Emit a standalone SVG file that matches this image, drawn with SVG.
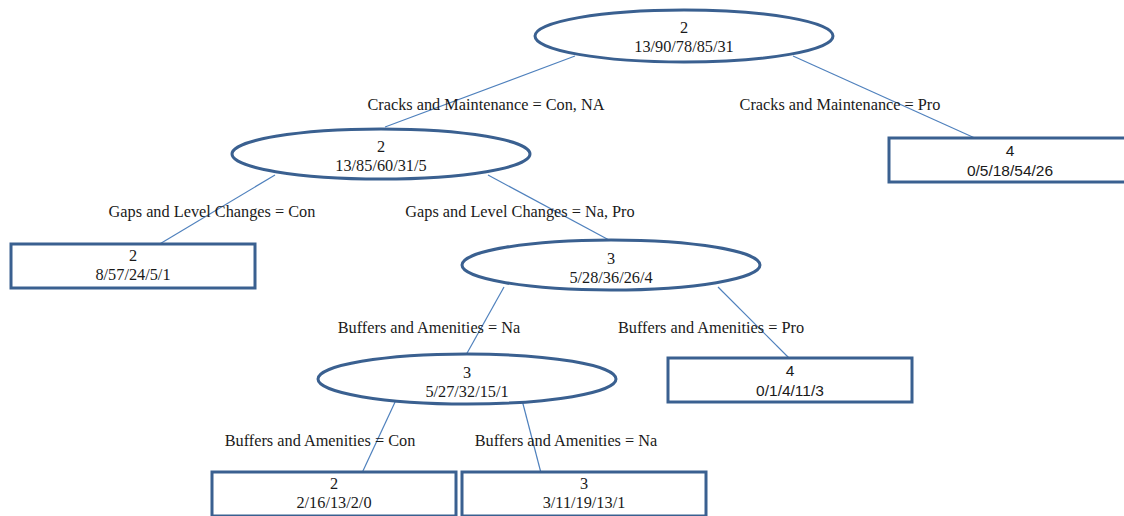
<svg xmlns="http://www.w3.org/2000/svg" width="1124" height="516" viewBox="0 0 1124 516">
<style>
.n{fill:#fff;stroke:#3a6090;stroke-width:3}
.c{stroke:#4f81bd;stroke-width:1.2;fill:none}
text{font-family:"Liberation Serif","Times New Roman",serif;font-size:16.3px;fill:#1a1a1a;text-anchor:middle}
.s{font-family:"Liberation Sans",Arial,sans-serif;font-size:15.5px}
</style>
<rect width="1124" height="516" fill="#fff"/>
<g id="connectors">
<line class="c" x1="575" y1="56" x2="385" y2="127"/>
<line class="c" x1="793" y1="56" x2="977" y2="139"/>
<line class="c" x1="275" y1="175" x2="158" y2="245"/>
<line class="c" x1="488" y1="175" x2="609" y2="240"/>
<line class="c" x1="504" y1="287" x2="466" y2="355"/>
<line class="c" x1="718" y1="287" x2="790" y2="359"/>
<line class="c" x1="396" y1="400" x2="362" y2="473"/>
<line class="c" x1="522" y1="400" x2="541" y2="473"/>
</g>
<g id="edge-labels">
<text x="486" y="110">Cracks and Maintenance = Con, NA</text>
<text x="840" y="110">Cracks and Maintenance = Pro</text>
<text x="212" y="217">Gaps and Level Changes = Con</text>
<text x="520" y="217">Gaps and Level Changes = Na, Pro</text>
<text x="429" y="333">Buffers and Amenities = Na</text>
<text x="711" y="333">Buffers and Amenities = Pro</text>
<text x="320" y="446">Buffers and Amenities = Con</text>
<text x="566" y="446">Buffers and Amenities = Na</text>
</g>
<g id="n1"><ellipse class="n" cx="684" cy="36" rx="149" ry="26"/><text x="684" y="33">2</text><text x="684" y="52">13/90/78/85/31</text></g>
<g id="n2"><ellipse class="n" cx="381" cy="154" rx="149" ry="25"/><text x="381" y="152">2</text><text x="381" y="171">13/85/60/31/5</text></g>
<g id="n3"><rect class="n" x="889" y="138" width="244" height="44"/><text class="s" x="1010" y="156">4</text><text class="s" x="1010" y="176">0/5/18/54/26</text></g>
<g id="n4"><rect class="n" x="11" y="244" width="244" height="44"/><text x="133" y="261">2</text><text x="133" y="280">8/57/24/5/1</text></g>
<g id="n5"><ellipse class="n" cx="611" cy="265" rx="149" ry="25"/><text x="611" y="264">3</text><text x="611" y="283">5/28/36/26/4</text></g>
<g id="n6"><ellipse class="n" cx="467" cy="379" rx="149" ry="25"/><text x="467" y="378">3</text><text x="467" y="397">5/27/32/15/1</text></g>
<g id="n7"><rect class="n" x="668" y="358" width="244" height="44"/><text class="s" x="790" y="376">4</text><text class="s" x="790" y="396">0/1/4/11/3</text></g>
<g id="n8"><rect class="n" x="212" y="472" width="244" height="44"/><text x="334" y="489">2</text><text x="334" y="508">2/16/13/2/0</text></g>
<g id="n9"><rect class="n" x="462" y="472" width="244" height="44"/><text x="584" y="489">3</text><text x="584" y="508">3/11/19/13/1</text></g>
</svg>
